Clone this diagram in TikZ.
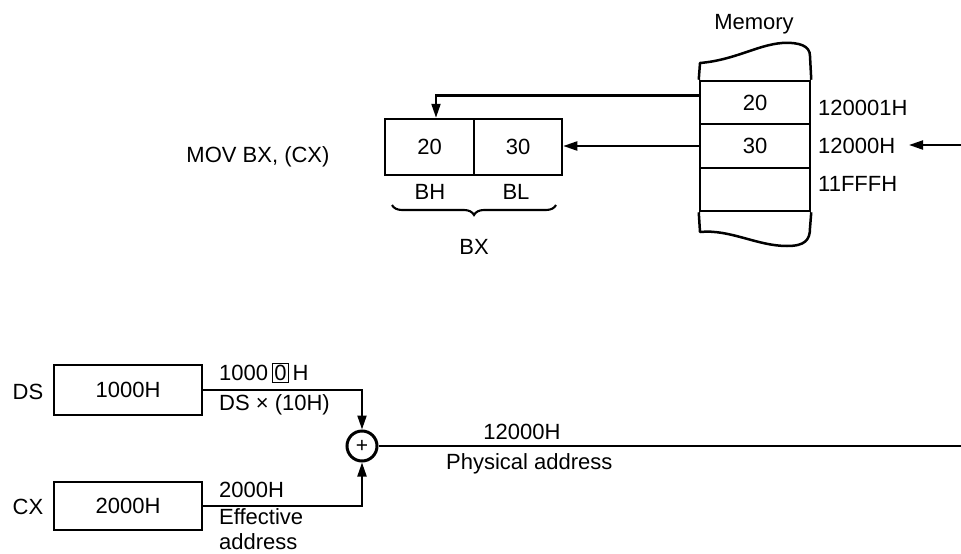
\documentclass[tikz,border=0pt]{standalone}
\usepackage{fontspec}
\setmainfont{Liberation Sans}
\usetikzlibrary{arrows.meta,decorations.pathreplacing,calc}
\begin{document}
\begin{tikzpicture}[x=1pt,y=-1pt,
  every node/.style={font=\fontsize{22}{26}\selectfont},
  txt/.style={inner sep=0pt},
  boxcell/.style={draw,line width=2.5pt,inner sep=0pt},
  conn/.style={line width=2.1pt},
  arr/.style={conn,-{Triangle[length=14pt,width=9pt]}},
  adder/.style={draw,circle,line width=3pt,minimum size=30pt,inner sep=0pt}]
\useasboundingbox (0,0) rectangle (961,554);
% ---------- Memory ----------
\node[txt] (memlabel) at (754,24) {Memory};
\node[boxcell,minimum width=110pt,minimum height=43pt] (m20) at (755,102.5) {20};
\node[boxcell,minimum width=110pt,minimum height=44pt] (m30) at (755,146) {30};
\node[boxcell,minimum width=110pt,minimum height=43pt] (mempty) at (755,189.5) {};
\draw[line width=2.5pt,line join=round] (m20.north west) -- (700,63)
  .. controls (735,60) and (757,45) .. (782,43)
  .. controls (800,42) and (810,46) .. (810,56) -- (m20.north east);
\draw[line width=2.5pt,line join=round] (mempty.south west) -- (700,232)
  .. controls (730,229) and (757,246) .. (787,246)
  .. controls (805,246) and (810,240) .. (810,228) -- (mempty.south east);
\node[txt,anchor=west] (a1) at (818,108) {120001H};
\node[txt,anchor=west] (a2) at (818,146) {12000H};
\node[txt,anchor=west] (a3) at (818,184) {11FFFH};
\coordinate (pin) at (961,145);
\coordinate (ptip) at (909,145);
\draw[arr] (pin) -- (ptip);
% ---------- BX register ----------
\node[txt] (mov) at (258,157) {MOV BX, (CX)};
\node[boxcell,minimum width=89pt,minimum height=56pt] (bh) at (429.5,147) {20};
\node[boxcell,minimum width=88pt,minimum height=56pt] (bl) at (518,147) {30};
\node[txt] (bhl) at (430,192) {BH};
\node[txt] (bll) at (516,192) {BL};
\draw[conn,decorate,decoration={brace,mirror,amplitude=10pt}] (392,205) -- (556,205);
\node[txt] (bxl) at (474,247) {BX};
\draw[arr] ([yshift=7pt]m20.west) -| ([xshift=6.5pt]bh.north);
\draw[arr] (m30.west) -- (m30.west -| bl.east);
% ---------- Address computation ----------
\node[txt] (dsl) at (28,392) {DS};
\node[boxcell,minimum width=148pt,minimum height=50pt] (ds) at (128,390) {1000H};
\node[txt] (cxl) at (28,507) {CX};
\node[boxcell,minimum width=148pt,minimum height=48pt] (cx) at (128,506) {2000H};
\node[adder] (add) at (362,446) {\fontsize{21}{21}\selectfont +};
\draw[arr] (ds.east) -| (add.north);
\draw[arr] (cx.east) -| (add.south);
\coordinate (pout) at (961,446);
\draw[conn] (add.east) -- (pout);
\node[txt,anchor=west] (dsv) at (219,373) {1000\,{\setlength{\fboxsep}{1pt}\setlength{\fboxrule}{1.5pt}\fbox{0}}\,H};
\node[txt,anchor=west] (dsm) at (219,405) {DS × (10H)};
\node[txt,anchor=west] (cxv) at (219,490) {2000H};
\node[txt,anchor=west,align=left,font=\fontsize{22}{25}\selectfont] (cxm) at (219,529) {Effective\\address};
\node[txt] (pav) at (522,432) {12000H};
\node[txt,anchor=west] (pam) at (446,464) {Physical address};
\end{tikzpicture}
\end{document}
